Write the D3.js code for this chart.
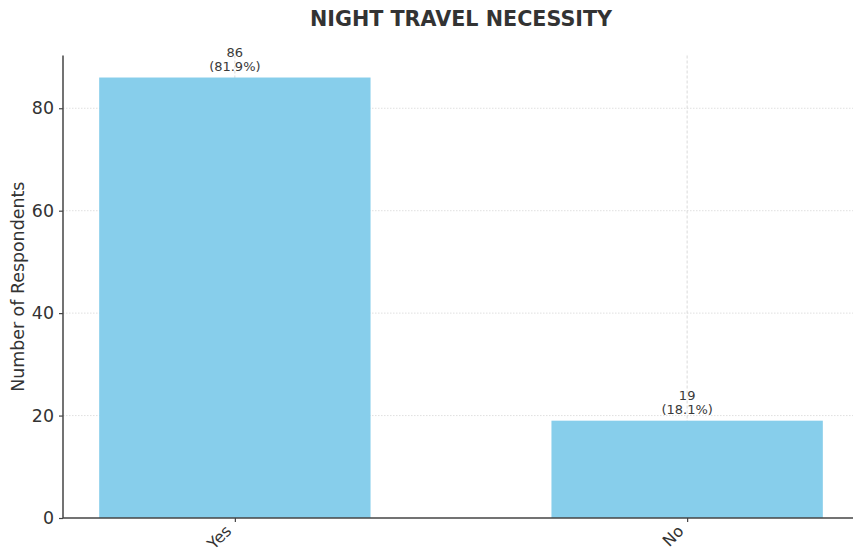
<!DOCTYPE html>
<html>
<head>
<meta charset="utf-8">
<script src="https://cdn.jsdelivr.net/npm/d3@7"></script>
<style>
  body { margin: 0; background: #fff; }
  svg { display: block; font-family: "DejaVu Sans", sans-serif; }
</style>
</head>
<body>
<svg id="chart" width="853" height="553"></svg>
<script>
// Survey answers: is night travel necessary?
const categories = ["Yes", "No"];
const counts = [86, 19];
const percents = ["81.9%", "18.1%"];
const yTicks = [0, 20, 40, 60, 80];

const svg = d3.select("#chart");
const plotLeft = 63, plotBottom = 518, plotTop = 55.5, plotRight = 859;

const x = d3.scaleLinear().domain([-0.38, categories.length - 1 + 0.38]).range([plotLeft, plotRight]);
const y = d3.scaleLinear().domain([0, d3.max(counts) * 1.05]).range([plotBottom, plotTop]);
const barW = 0.6;

// grid
const grid = svg.append("g");
grid.selectAll(".hg").data(yTicks.filter(d => d > 0)).join("line")
  .attr("x1", plotLeft).attr("x2", plotRight)
  .attr("y1", d => y(d)).attr("y2", d => y(d))
  .attr("stroke", "#d8d8d8").attr("stroke-width", 0.8).attr("stroke-dasharray", "1.5,1.5");
grid.selectAll(".vg").data(categories).join("line")
  .attr("x1", (d, i) => x(i)).attr("x2", (d, i) => x(i))
  .attr("y1", plotTop).attr("y2", plotBottom)
  .attr("stroke", "#d0d0d0").attr("stroke-width", 0.8).attr("stroke-dasharray", "3,2");

// bars
svg.append("g").selectAll("rect").data(counts).join("rect")
  .attr("x", (d, i) => x(i - barW / 2))
  .attr("width", (d, i) => x(i + barW / 2) - x(i - barW / 2))
  .attr("y", d => y(d))
  .attr("height", d => plotBottom - y(d))
  .attr("fill", "#87ceeb");

// value labels
const lab = svg.append("g").attr("fill", "#3a3a3a").attr("font-size", 13).attr("text-anchor", "middle");
counts.forEach((c, i) => {
  lab.append("text").attr("x", x(i)).attr("y", y(c) - 21).text(c);
  lab.append("text").attr("x", x(i)).attr("y", y(c) - 7).text("(" + percents[i] + ")");
});

// axes
const yAxis = d3.axisLeft(y).tickValues(yTicks).tickSize(4).tickPadding(5);
const gy = svg.append("g").attr("transform", `translate(${plotLeft},0)`).call(yAxis);
gy.select(".domain").attr("stroke", "#444").attr("stroke-width", 1.5).attr("d", `M0,${plotTop}V${plotBottom}`);
gy.selectAll(".tick line").attr("stroke", "#444").attr("stroke-width", 1.2);
gy.selectAll(".tick text").attr("font-size", 17.4).attr("fill", "#333").attr("font-family", "DejaVu Sans, sans-serif");

const xAxis = d3.axisBottom(x).tickValues(d3.range(categories.length)).tickFormat(i => categories[i]).tickSize(4).tickPadding(3);
const gx = svg.append("g").attr("transform", `translate(0,${plotBottom})`).call(xAxis);
gx.select(".domain").attr("stroke", "#444").attr("stroke-width", 1.5).attr("d", `M${plotLeft},0H${plotRight}`);
gx.selectAll(".tick line").attr("stroke", "#444").attr("stroke-width", 1.2);
// rotated category labels ending just left of each tick
gx.selectAll(".tick text")
  .attr("font-size", 16).attr("fill", "#333").attr("font-family", "DejaVu Sans, sans-serif")
  .attr("text-anchor", "end").attr("x", 0).attr("y", 0).attr("dy", 0)
  .attr("transform", "translate(-3,14) rotate(-45)");

// y label
svg.append("text")
  .attr("transform", `translate(24,${(plotTop + plotBottom) / 2}) rotate(-90)`)
  .attr("text-anchor", "middle").attr("font-size", 17.4).attr("fill", "#333")
  .text("Number of Respondents");

// title
svg.append("text")
  .attr("x", (plotLeft + plotRight) / 2).attr("y", 26)
  .attr("text-anchor", "middle").attr("font-size", 20.7).attr("font-weight", "bold").attr("fill", "#333")
  .text("NIGHT TRAVEL NECESSITY");
</script>
</body>
</html>
